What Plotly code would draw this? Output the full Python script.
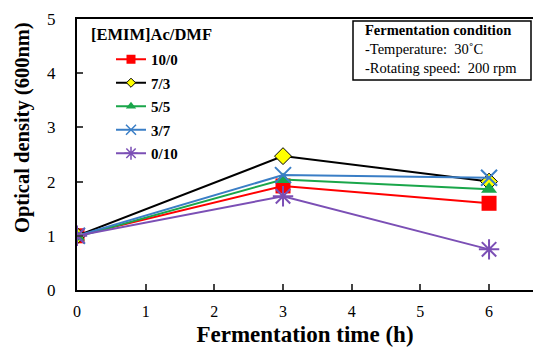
import plotly.graph_objects as go

time_h = [0, 3, 6]
series_names = ["10/0", "7/3", "5/5", "3/7", "0/10"]
od_10_0 = [1.0, 1.92, 1.60]
od_7_3 = [1.0, 2.47, 2.00]
od_5_5 = [0.98, 2.04, 1.86]
od_3_7 = [1.0, 2.12, 2.07]
od_0_10 = [1.0, 1.73, 0.75]
x_ticks = [0, 1, 2, 3, 4, 5, 6]
y_ticks = [0, 1, 2, 3, 4, 5]

values = [od_10_0, od_7_3, od_5_5, od_3_7, od_0_10]
line_colors = ["#ff0000", "#000000", "#1aa64a", "#3a7ec6", "#7b4fb5"]
symbols = ["square", "diamond", "triangle-up", "x-thin-open", "asterisk-open"]
fill_colors = ["#ff0000", "#ffff00", "#1aa64a", "#3a7ec6", "#7b4fb5"]
mline_colors = ["#ff0000", "#000000", "#1aa64a", "#3a7ec6", "#7b4fb5"]
mline_w = [0, 1, 0, 2, 2]
leg_mline_w = [0, 1, 0, 1.5, 1.5]
sizes = [15, 13, 14, 16, 17]
leg_sizes = [9, 7, 9, 10, 11]

fig = go.Figure()
for i, name in enumerate(series_names):
    fig.add_trace(go.Scatter(
        x=time_h, y=values[i], mode="lines+markers", name=name,
        showlegend=False, legendgroup=name,
        line=dict(color=line_colors[i], width=2),
        marker=dict(symbol=symbols[i], size=sizes[i], color=fill_colors[i],
                    line=dict(color=mline_colors[i], width=mline_w[i])),
    ))
for i, name in enumerate(series_names):
    fig.add_trace(go.Scatter(
        x=[None], y=[None], mode="lines+markers", name="<b>" + name + "</b>",
        legendgroup=name,
        line=dict(color=line_colors[i], width=2),
        marker=dict(symbol=symbols[i], size=leg_sizes[i], color=fill_colors[i],
                    line=dict(color=mline_colors[i], width=leg_mline_w[i])),
    ))

font_serif = "Liberation Serif"
L, T, W, H = 77, 19, 456, 271


def px_x(p):
    return (p - L) / W


def px_y(p):
    return (T + H - p) / H


fig.update_layout(
    width=533, height=347,
    margin=dict(l=L, r=533 - L - W, t=T, b=347 - T - H, autoexpand=False),
    paper_bgcolor="white", plot_bgcolor="white",
    font=dict(family=font_serif, color="black", size=15),
    showlegend=True,
    legend=dict(
        x=px_x(111), y=px_y(43), xanchor="left", yanchor="top",
        bgcolor="rgba(0,0,0,0)",
        font=dict(size=15, family=font_serif),
        traceorder="grouped", tracegroupgap=1, itemwidth=30,
    ),
    xaxis=dict(
        range=[0, 6.64], tickvals=x_ticks, ticks="inside", ticklen=6, tickwidth=2,
        showline=True, linecolor="black", linewidth=2, mirror=True,
        showgrid=False, zeroline=False, automargin=False,
        tickfont=dict(size=16, family=font_serif), ticklabelstandoff=6,
        title=dict(text="<b>Fermentation time (h)</b>", font=dict(size=23, family=font_serif), standoff=12),
    ),
    yaxis=dict(
        range=[0, 5], tickvals=y_ticks, ticks="inside", ticklen=6, tickwidth=2,
        showline=True, linecolor="black", linewidth=2, mirror=True,
        showgrid=False, zeroline=False, automargin=False,
        tickfont=dict(size=17, family=font_serif), ticklabelstandoff=16,
    ),
)

fig.add_annotation(xref="paper", yref="paper", x=px_x(22), y=px_y(128),
                   xanchor="center", yanchor="middle", textangle=-90, showarrow=False,
                   text="<b>Optical density (600nm)</b>",
                   font=dict(size=20.5, family=font_serif, color="black"))
fig.add_annotation(xref="paper", yref="paper", x=px_x(89), y=px_y(35),
                   xanchor="left", yanchor="middle", showarrow=False,
                   text="<b>[EMIM]Ac/DMF</b>",
                   font=dict(size=16.5, family=font_serif, color="black"))

fig.add_shape(type="rect", xref="paper", yref="paper",
              x0=px_x(353), x1=px_x(531), y0=px_y(80), y1=px_y(21),
              line=dict(color="black", width=1.5), fillcolor="white", layer="above")
box_text = "<br>".join(["<b>Fermentation condition</b>", "-Temperature:  30˚C", "-Rotating speed:  200 rpm"])
fig.add_annotation(xref="paper", yref="paper", x=px_x(363), y=px_y(49),
                   xanchor="left", yanchor="middle", align="left", showarrow=False, text=box_text,
                   font=dict(size=14.5, family=font_serif, color="black"))

fig.write_html("out.html", config={"displayModeBar": False},
               post_script="document.body.style.margin='0';")
